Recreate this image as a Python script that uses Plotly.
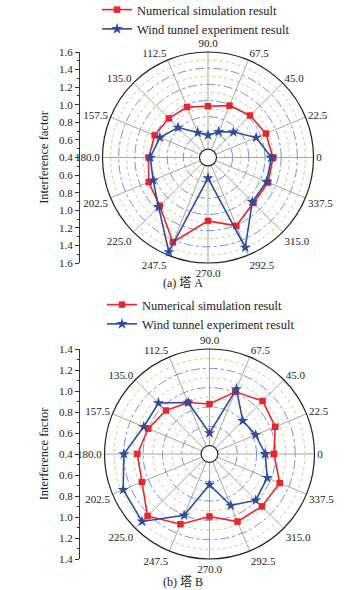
import plotly.graph_objects as go

# ---------------- data ----------------
angles = [0, 22.5, 45, 67.5, 90, 112.5, 135, 157.5, 180, 202.5, 225, 247.5, 270, 292.5, 315, 337.5]
angle_labels = ["0", "22.5", "45.0", "67.5", "90.0", "112.5", "135.0", "157.5",
                "180.0", "202.5", "225.0", "247.5", "270.0", "292.5", "315.0", "337.5"]

a_numerical = [1.10, 1.07, 1.03, 0.99, 0.93, 0.97, 0.98, 1.01, 1.03, 1.09, 1.14, 1.43, 1.08, 1.21, 1.09, 1.10]
a_wind = [1.08, 0.94, 0.74, 0.64, 0.57, 0.63, 0.82, 0.94, 1.01, 1.03, 1.16, 1.56, 0.55, 1.50, 1.07, 1.08]
b_numerical = [0.98, 1.05, 1.09, 1.01, 0.83, 0.89, 0.95, 1.00, 1.06, 1.07, 1.22, 1.10, 0.96, 1.07, 1.08, 1.10]
b_wind = [0.89, 0.83, 0.80, 1.04, 0.53, 0.89, 1.06, 1.05, 1.20, 1.28, 1.30, 1.00, 0.63, 0.89, 0.99, 0.96]

range_a = [0.4, 1.6]
range_b = [0.4, 1.4]
series_names = ["Numerical simulation result", "Wind tunnel experiment result"]
captions = ["(a) 塔 A", "(b) 塔 B"]

# ---------------- style ----------------
W, H = 360, 590
SERIF = "Liberation Serif"
CAP_FONT = "Liberation Serif, Noto Sans CJK SC"
RED = "#e8262b"
BLUE = "#2d4c9c"
HOLE = 0.08


def close(seq):
    return list(seq) + [seq[0]]


def px_dom_x(a, b):
    return [a / W, b / W]


def px_dom_y(top, bottom):
    return [1 - bottom / H, 1 - top / H]


fig = go.Figure()

panels = [
    dict(vals=(a_numerical, a_wind), rng=range_a, cx=208, cy=157.5, R=105.5,
         base="polar", over="polar2", legend="legend", xa="x", ya="y",
         legend_top=-5, legend_x=97, caption_bottom=292),
    dict(vals=(b_numerical, b_wind), rng=range_b, cx=209.5, cy=454, R=105,
         base="polar3", over="polar4", legend="legend2", xa="x2", ya="y2",
         legend_top=290, legend_x=102, caption_bottom=591),
]

for i, p in enumerate(panels):
    num, wind = p["vals"]
    lo, hi = p["rng"]
    span = hi - lo
    # invisible trace so the base (grid) polar subplot is drawn
    fig.add_trace(go.Scatterpolar(r=[lo], theta=[0], mode="markers",
                                  marker=dict(opacity=0), subplot=p["base"],
                                  showlegend=False, hoverinfo="skip"))
    fig.add_trace(go.Scatterpolar(
        r=close(num), theta=close(angles), mode="lines+markers",
        name=series_names[0], subplot=p["over"], legend=p["legend"],
        line=dict(color=RED, width=1.6),
        marker=dict(symbol="square", size=6.5, color=RED),
    ))
    fig.add_trace(go.Scatterpolar(
        r=close(wind), theta=close(angles), mode="lines+markers",
        name=series_names[1], subplot=p["over"], legend=p["legend"],
        line=dict(color=BLUE, width=1.6),
        marker=dict(symbol="star", size=8.5, color=BLUE),
    ))
    # dummy cartesian trace so the mirrored radial scale axis is drawn
    fig.add_trace(go.Scatter(x=[0], y=[0], xaxis=p["xa"], yaxis=p["ya"],
                             mode="markers", marker=dict(opacity=0),
                             showlegend=False, hoverinfo="skip"))

    xd = px_dom_x(p["cx"] - p["R"], p["cx"] + p["R"])
    yd = px_dom_y(p["cy"] - p["R"], p["cy"] + p["R"])

    major = [round(lo + 0.2 * k, 2) for k in range(1, int(round(span / 0.2)))]
    minor = [round(lo + 0.1 + 0.2 * k, 2) for k in range(int(round(span / 0.2)))]

    base_polar = dict(
        domain=dict(x=xd, y=yd), hole=HOLE, bgcolor="white",
        radialaxis=dict(range=p["rng"], tickvals=major, showticklabels=False,
                        ticks="", showline=False, gridcolor="#8090cc",
                        griddash="dashdot", gridwidth=0.8),
        angularaxis=dict(rotation=0, direction="counterclockwise",
                         tickvals=angles, ticktext=angle_labels, ticks="",
                         showline=True, linecolor="#222222", linewidth=1.2,
                         gridcolor="#a8a8a8", gridwidth=0.9,
                         tickfont=dict(family=SERIF, size=11, color="#222")),
    )
    over_polar = dict(
        domain=dict(x=xd, y=yd), hole=HOLE, bgcolor="rgba(0,0,0,0)",
        radialaxis=dict(range=p["rng"], tickvals=minor, showticklabels=False,
                        ticks="", showline=False, gridcolor="#cccc90",
                        griddash="dot", gridwidth=0.9),
        angularaxis=dict(rotation=0, direction="counterclockwise",
                         tickvals=angles, showticklabels=False, ticks="",
                         showline=False, showgrid=False),
    )
    fig.update_layout({p["base"]: base_polar, p["over"]: over_polar})

    # mirrored scale on the left
    ticks = [round(-span + 0.2 * k, 2) for k in range(int(round(2 * span / 0.2)) + 1)]
    tick_text = ["%.1f" % (abs(t) + lo) for t in ticks]
    yname = "yaxis" if p["ya"] == "y" else "yaxis2"
    xname = "xaxis" if p["xa"] == "x" else "xaxis2"
    fig.update_layout({
        xname: dict(domain=[0.0, 0.05], visible=False, range=[-1, 1]),
        yname: dict(domain=yd, range=[-span, span], anchor="free",
                    position=79 / W, tickvals=ticks, ticktext=tick_text,
                    ticks="outside", ticklen=4, tickwidth=1, tickcolor="#333",
                    minor=dict(dtick=0.1, tick0=0, ticks="outside", ticklen=2,
                               tickcolor="#333"),
                    showline=True, linecolor="#333", linewidth=1,
                    showgrid=False, zeroline=False, automargin=False,
                    tickfont=dict(family=SERIF, size=11, color="#222"),
                    title=dict(text="Interference factor", standoff=6,
                               font=dict(family=SERIF, size=12.5, color="#222"))),
        p["legend"]: dict(x=p["legend_x"] / W, y=1 - p["legend_top"] / H,
                          xanchor="left", yanchor="top",
                          bgcolor="rgba(0,0,0,0)",
                          font=dict(family=SERIF, size=12.5, color="#222"),
                          tracegroupgap=0, itemwidth=30),
    })
    fig.add_annotation(text=captions[i], x=183 / W,
                       y=1 - p["caption_bottom"] / H, yanchor="bottom",
                       xref="paper", yref="paper", showarrow=False,
                       font=dict(family=CAP_FONT, size=12, color="#222"))

fig.update_layout(width=W, height=H,
                  margin=dict(l=0, r=0, t=0, b=0, pad=0, autoexpand=False),
                  paper_bgcolor="white", plot_bgcolor="rgba(0,0,0,0)",
                  font=dict(family=SERIF, color="#222"),
                  showlegend=True)

fig.write_html("out.html", config={"displayModeBar": False},
               post_script="document.body.style.margin='0';"
                           "document.body.style.overflow='hidden';")
